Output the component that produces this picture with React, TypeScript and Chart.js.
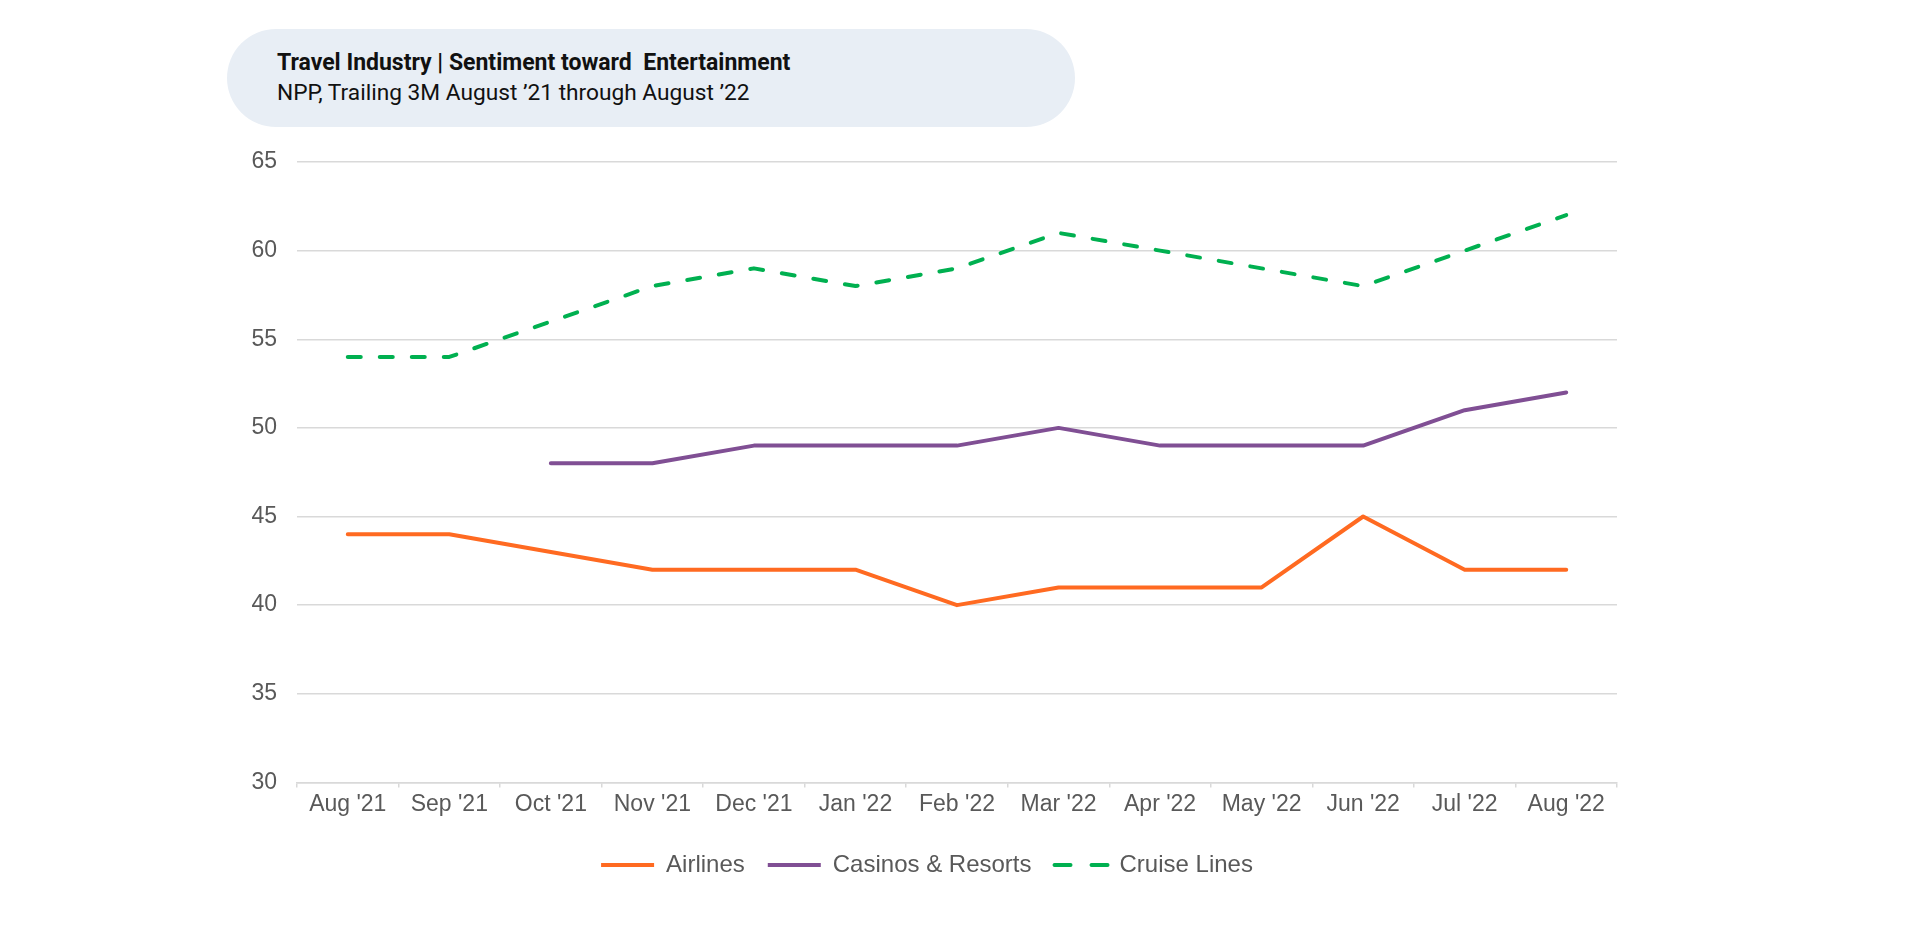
import React, { useEffect, useRef } from "react";
import { Chart, registerables } from "chart.js";

Chart.register(...registerables);

const categories = [
  "Aug '21", "Sep '21", "Oct '21", "Nov '21", "Dec '21", "Jan '22", "Feb '22",
  "Mar '22", "Apr '22", "May '22", "Jun '22", "Jul '22", "Aug '22",
];
const airlines = [44, 44, 43, 42, 42, 42, 40, 41, 41, 41, 45, 42, 42];
const casinosResorts = [null, null, 48, 48, 49, 49, 49, 50, 49, 49, 49, 51, 52];
const cruiseLines = [54, 54, 56, 58, 59, 58, 59, 61, 60, 59, 58, 60, 62];

const seriesNames = ["Airlines", "Casinos & Resorts", "Cruise Lines"];
const seriesColors = ["#FF6A21", "#804F94", "#00B050"];

const yMin = 30;
const yMax = 65;
const yStep = 5;

const titleText = "Travel Industry | Sentiment toward  Entertainment";
const subtitleText = "NPP, Trailing 3M August \u201921 through August \u201922";

const FONT = "'Liberation Sans', Arial, Helvetica, sans-serif";
const TEXT_COLOR = "#595959";
const GRID_COLOR = "#D9D9D9";

const PAD_LEFT = 237;

export default function App() {
  const canvasRef = useRef<HTMLCanvasElement | null>(null);

  useEffect(() => {
    if (!canvasRef.current) return;
    const chart = new Chart(canvasRef.current, {
      type: "line",
      data: {
        labels: categories,
        datasets: [
          {
            label: seriesNames[0],
            data: airlines,
            borderColor: seriesColors[0],
            backgroundColor: seriesColors[0],
            borderWidth: 4,
            borderCapStyle: "round",
            borderJoinStyle: "round",
            pointRadius: 0,
            tension: 0,
          },
          {
            label: seriesNames[1],
            data: casinosResorts,
            borderColor: seriesColors[1],
            backgroundColor: seriesColors[1],
            borderWidth: 4,
            borderCapStyle: "round",
            borderJoinStyle: "round",
            pointRadius: 0,
            tension: 0,
          },
          {
            label: seriesNames[2],
            data: cruiseLines,
            borderColor: seriesColors[2],
            backgroundColor: seriesColors[2],
            borderWidth: 4,
            borderDash: [13, 19],
            borderCapStyle: "round",
            borderJoinStyle: "round",
            pointRadius: 0,
            tension: 0,
          },
        ],
      },
      options: {
        animation: false,
        responsive: false,
        maintainAspectRatio: false,
        layout: {
          padding: { top: 162, right: 303, bottom: 56, left: PAD_LEFT },
        },
        plugins: {
          title: { display: false },
          tooltip: { enabled: false },
          legend: {
            display: true,
            position: "bottom",
            labels: {
              color: TEXT_COLOR,
              font: { family: FONT, size: 24 },
              boxWidth: 53,
              boxHeight: 0,
              padding: 23,
              generateLabels: (ch: any) =>
                ch.data.datasets.map((ds: any, i: number) => ({
                  text: ds.label,
                  fillStyle: ds.borderColor,
                  strokeStyle: ds.borderColor,
                  lineWidth: 4,
                  lineCap: "round",
                  lineDash: i === 2 ? [16, 37] : [],
                  fontColor: TEXT_COLOR,
                  datasetIndex: i,
                  hidden: false,
                })),
            },
          },
        },
        scales: {
          x: {
            type: "category",
            offset: true,
            afterFit: (scale: any) => {
              scale.height += 9;
            },
            grid: {
              drawOnChartArea: false,
              drawTicks: true,
              tickLength: 5,
              color: GRID_COLOR,
              lineWidth: 1.5,
              offset: true,
            },
            border: { display: true, color: GRID_COLOR, width: 1.5 },
            ticks: {
              color: TEXT_COLOR,
              font: { family: FONT, size: 23 },
              padding: 3,
              maxRotation: 0,
              autoSkip: false,
            },
          },
          y: {
            min: yMin,
            max: yMax,
            afterFit: (scale: any) => {
              scale.width = 297 - PAD_LEFT;
            },
            grid: {
              color: GRID_COLOR,
              lineWidth: 1.5,
              drawTicks: false,
            },
            border: { display: false },
            ticks: {
              stepSize: yStep,
              color: TEXT_COLOR,
              font: { family: FONT, size: 23 },
              padding: 20,
            },
          },
        },
      },
    });
    return () => chart.destroy();
  }, []);

  return (
    <div style={{ position: "absolute", left: 0, top: 0, width: 1920, height: 943, background: "#fff" }}>
      <canvas ref={canvasRef} width={1920} height={943} style={{ position: "absolute", left: 0, top: 0, width: 1920, height: 943 }} />
      <div
        style={{
          position: "absolute",
          left: 227,
          top: 29,
          width: 848,
          height: 98,
          borderRadius: 49,
          background: "#E8EEF5",
        }}
      />
      <div
        style={{
          position: "absolute",
          left: 277,
          top: 50,
          fontFamily: "Roboto, sans-serif",
          fontWeight: 700,
          fontSize: 23,
          lineHeight: "26px",
          color: "#111",
          whiteSpace: "pre",
        }}
      >
        {titleText}
      </div>
      <div
        style={{
          position: "absolute",
          left: 277,
          top: 80,
          fontFamily: "Roboto, sans-serif",
          fontWeight: 400,
          fontSize: 22.7,
          lineHeight: "26px",
          color: "#111",
          whiteSpace: "pre",
        }}
      >
        {subtitleText}
      </div>
    </div>
  );
}
